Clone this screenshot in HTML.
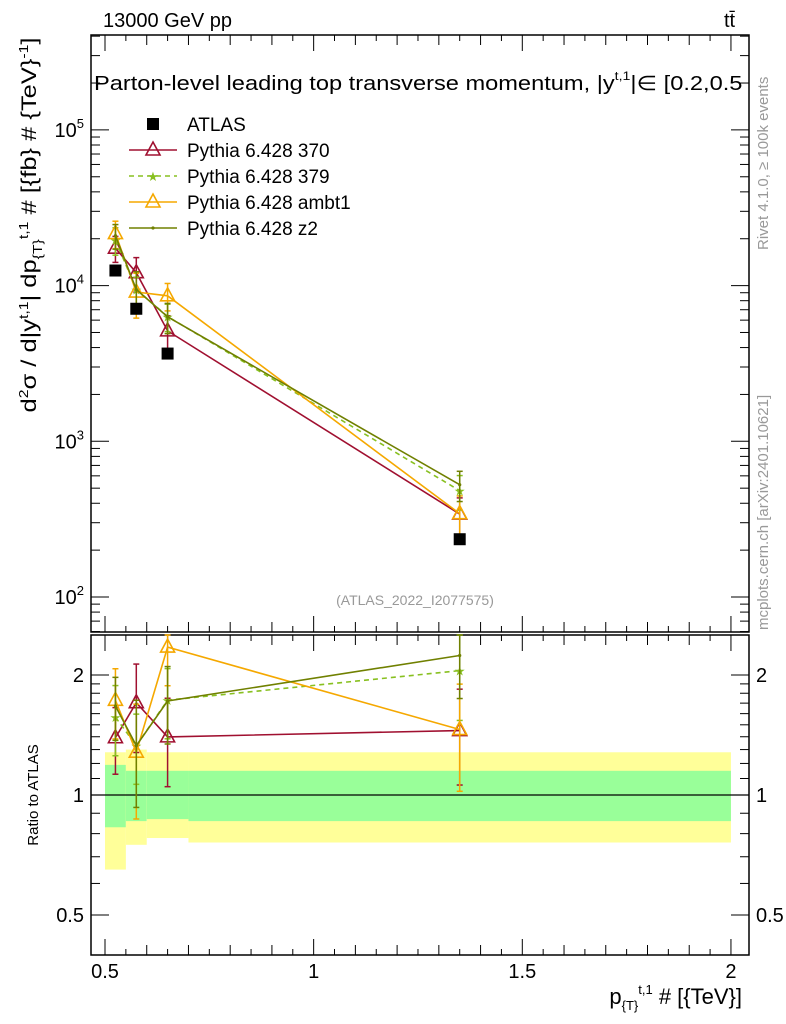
<!DOCTYPE html>
<html><head><meta charset="utf-8">
<style>
body{margin:0;background:#fff;}
svg{display:block;font-family:"Liberation Sans",sans-serif;}
</style></head>
<body>
<svg id="chart" width="786" height="1024" viewBox="0 0 786 1024" xmlns="http://www.w3.org/2000/svg">
<rect x="0" y="0" width="786" height="1024" fill="#fff"/>
<g id="bands"></g>
<g id="axes"></g>
<g id="series"></g>
<text x="103" y="27" font-size="20">13000 GeV pp</text>
<text x="724" y="27" font-size="20">tt̄</text>
<svg x="91" y="60" width="651" height="40" overflow="hidden">
<text x="3" y="30" font-size="20" textLength="655" lengthAdjust="spacingAndGlyphs">Parton-level leading top transverse momentum, |y<tspan font-size="12" dy="-10">t,1</tspan><tspan dy="10">|∈ [0.2,0.5]</tspan></text>
</svg>
<text transform="translate(36,225) rotate(-90)" text-anchor="middle" font-size="21" textLength="375" lengthAdjust="spacingAndGlyphs">d<tspan font-size="13" dy="-8">2</tspan><tspan dy="8">σ / d|y</tspan><tspan font-size="13" dy="-8">t,1</tspan><tspan dy="8">| dp</tspan><tspan font-size="13" dy="6">{T}</tspan><tspan font-size="13" dy="-14">t,1</tspan><tspan dy="8"> # [{fb} # {TeV}</tspan><tspan font-size="13" dy="-8">-1</tspan><tspan dy="8">]</tspan></text>
<text transform="translate(38,795) rotate(-90)" text-anchor="middle" font-size="15">Ratio to ATLAS</text>
<text x="742" y="1004" text-anchor="end" font-size="22">p<tspan font-size="13" dy="6">{T}</tspan><tspan font-size="13" dy="-16">t,1</tspan><tspan dy="10"> # [{TeV}]</tspan></text>
<text transform="translate(768,250) rotate(-90)" font-size="15" fill="#999">Rivet 4.1.0, ≥ 100k events</text>
<text transform="translate(768,630) rotate(-90)" font-size="15" fill="#999">mcplots.cern.ch [arXiv:2401.10621]</text>
<text x="415" y="605" text-anchor="middle" font-size="14" fill="#999">(ATLAS_2022_I2077575)</text>
<g id="legend"></g>
</svg>
<script>
const xCenters=[0.525,0.575,0.65,1.35];
const binEdges=[0.5,0.55,0.6,0.7,2.0];
const atlasVals=[12500,7100,3660,235];
const s370=[17400,12100,5120,341];
const s379=[19600,9440,6330,482];
const sAmbt1=[21600,9090,8600,343];
const sZ2=[20900,9440,6300,526];
const err370=[0.19,0.25,0.25,0.27];
const err379=[0.2,0.2,0.2,0.25];
const errAmbt1=[0.2,0.32,0.2,0.3];
const errZ2=[0.18,0.3,0.22,0.22];
const bandInnerHi=[1.19,1.15,1.15,1.15];
const bandInnerLo=[0.83,0.86,0.87,0.86];
const bandOuterHi=[1.28,1.3,1.28,1.28];
const bandOuterLo=[0.65,0.75,0.78,0.76];
const xTickLabels=["0.5","1","1.5","2"];
const yTickLabels=["10^2","10^3","10^4","10^5"];
const rTickLabels=["0.5","1","2"];

const NS="http://www.w3.org/2000/svg";
const L=91,R=749,T=35,MB=632,RT=635,RB=955;
const X=v=>105+(v-0.5)*417.3;
const Y=v=>597-(Math.log10(v)-2)*155.7;
const RY=v=>795-Math.log2(v)*120;
function mk(tag,attrs,parent){const e=document.createElementNS(NS,tag);for(const k in attrs)e.setAttribute(k,attrs[k]);parent.appendChild(e);return e;}
const axes=document.getElementById('axes'),bands=document.getElementById('bands'),ser=document.getElementById('series'),leg=document.getElementById('legend');

for(let i=0;i<4;i++){
  let r=mk('rect',{x:X(binEdges[i]),y:RY(bandOuterHi[i]),width:X(binEdges[i+1])-X(binEdges[i]),height:RY(bandOuterLo[i])-RY(bandOuterHi[i]),fill:'#ffff99'},bands);
  
  
  let g=mk('rect',{x:X(binEdges[i]),y:RY(bandInnerHi[i]),width:X(binEdges[i+1])-X(binEdges[i]),height:RY(bandInnerLo[i])-RY(bandInnerHi[i]),fill:'#99ff99'},bands);
  
  
}
let one=mk('line',{x1:L,x2:R,y1:RY(1),y2:RY(1),stroke:'#000','stroke-width':1.3},axes);



[[T,MB],[RT,RB]].forEach(([t,b])=>{
  let f=mk('rect',{x:L,y:t,width:R-L,height:b-t,fill:'none',stroke:'#000','stroke-width':1.5},axes);
  
  
  for(let k=0;k<=31;k++){const v=0.45+k*0.05;const x=X(v);if(x<L||x>R)continue;
    const major=Math.abs(v*2-Math.round(v*2))<1e-6;const mid=Math.abs(v*10-Math.round(v*10))<1e-6;
    const len=major?16:(mid?10:6);
    mk('line',{x1:x,x2:x,y1:b,y2:b-len,stroke:'#000'},axes);mk('line',{x1:x,x2:x,y1:t,y2:t+len,stroke:'#000'},axes);}
});
xTickLabels.forEach(s=>{let t=mk('text',{x:X(parseFloat(s)),y:978,'text-anchor':'middle','font-size':20},axes);t.textContent=s;
  
  });
for(let d=1;d<=5;d++)for(let m=1;m<10;m++){const v=m*Math.pow(10,d);const y=Y(v);if(y<T||y>MB)continue;
  const len=m==1?18:9;mk('line',{x1:L,x2:L+len,y1:y,y2:y,stroke:'#000'},axes);mk('line',{x1:R,x2:R-len,y1:y,y2:y,stroke:'#000'},axes);}
yTickLabels.forEach(s=>{const e=parseInt(s.split('^')[1]);let t=mk('text',{x:84,y:Y(Math.pow(10,e))+7,'text-anchor':'end','font-size':20},axes);
  t.innerHTML='10<tspan font-size="13" dy="-9">'+e+'</tspan>';
  
  });
[0.5,0.6,0.7,0.8,0.9,1,1.1,1.2,1.3,1.4,1.5,1.6,1.7,1.8,1.9,2].forEach(v=>{const y=RY(v);if(y<RT||y>RB)return;const len=(v==0.5||v==1||v==2)?18:9;
  mk('line',{x1:L,x2:L+len,y1:y,y2:y,stroke:'#000'},axes);mk('line',{x1:R,x2:R-len,y1:y,y2:y,stroke:'#000'},axes);});
rTickLabels.forEach(s=>{const v=parseFloat(s);
  let t=mk('text',{x:84,y:RY(v)+7,'text-anchor':'end','font-size':20},axes);t.textContent=s;
  
  
  let t2=mk('text',{x:756,y:RY(v)+7,'font-size':20},axes);t2.textContent=s;
  
  });

const series=[
 {name:'370',vals:s370,err:err370,color:'#a01030',dash:'',marker:'tri'},
 {name:'379',vals:s379,err:err379,color:'#88c020',dash:'5,4',marker:'star'},
 {name:'ambt1',vals:sAmbt1,err:errAmbt1,color:'#f5a800',dash:'',marker:'tri'},
 {name:'z2',vals:sZ2,err:errZ2,color:'#708000',dash:'',marker:'dot'}];
function marker(type,x,y,c,g){
  if(type=='tri')mk('path',{d:`M${x},${y-8}L${x+7},${y+5}L${x-7},${y+5}Z`,fill:'none',stroke:c,'stroke-width':1.6},g);
  else if(type=='star')mk('text',{x:x,y:y+5,'text-anchor':'middle','font-size':13,fill:c},g).textContent='★';
  else mk('circle',{cx:x,cy:y,r:1.6,fill:c},g);
}
series.forEach(s=>{
  const g=mk('g',{},ser);
  
  
  const ratios=s.vals.map((v,i)=>v/atlasVals[i]);
  [[s.vals,Y,T,MB],[ratios,RY,RT,RB]].forEach(([vals,fy,t,b])=>{
    mk('polyline',{points:vals.map((v,i)=>X(xCenters[i])+','+fy(v)).join(' '),fill:'none',stroke:s.color,'stroke-width':1.6,'stroke-dasharray':s.dash},g);
    vals.forEach((v,i)=>{const x=X(xCenters[i]);const hi=Math.max(t,fy(v*(1+s.err[i]))),lo=Math.min(b,fy(v*(1-s.err[i])));
      mk('line',{x1:x,x2:x,y1:hi,y2:lo,stroke:s.color,'stroke-width':1.5},g);
      mk('line',{x1:x-3,x2:x+3,y1:hi,y2:hi,stroke:s.color,'stroke-width':1.5},g);
      mk('line',{x1:x-3,x2:x+3,y1:lo,y2:lo,stroke:s.color,'stroke-width':1.5},g);
      marker(s.marker,x,fy(v),s.color,g);});
  });
});
atlasVals.forEach((v,i)=>{let r=mk('rect',{x:X(xCenters[i])-6,y:Y(v)-6,width:12,height:12,fill:'#000'},ser);
  
  });

const labels=['ATLAS','Pythia 6.428 370','Pythia 6.428 379','Pythia 6.428 ambt1','Pythia 6.428 z2'];
labels.forEach((lab,i)=>{const y=124+i*26;
  const g=mk('g',{},leg);
  
  
  if(i==0)mk('rect',{x:147,y:y-6,width:12,height:12,fill:'#000'},g);
  else{const s=series[i-1];mk('line',{x1:129,x2:177,y1:y,y2:y,stroke:s.color,'stroke-width':1.6,'stroke-dasharray':s.dash},g);marker(s.marker,153,y,s.color,g);}
  const t=mk('text',{x:187,y:y+7,'font-size':19},g);t.textContent=lab;});
</script>
</body></html>
